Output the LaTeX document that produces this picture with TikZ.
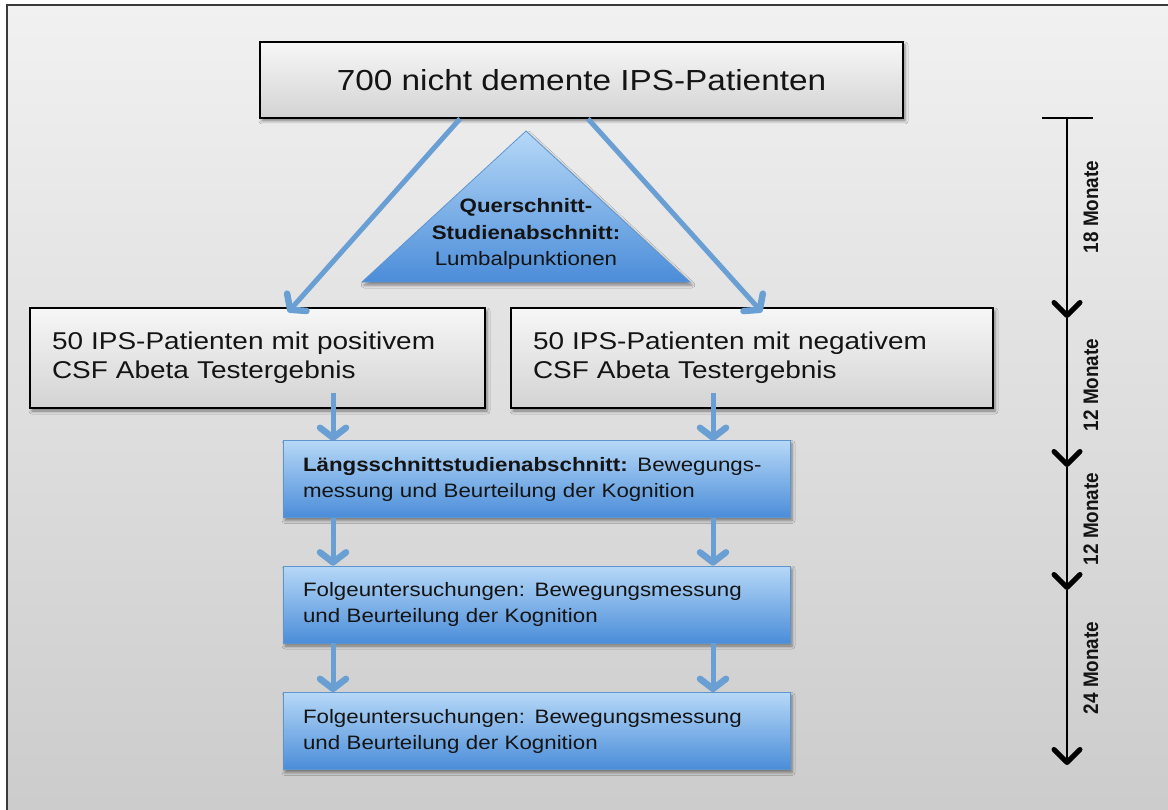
\documentclass[tikz,border=0pt]{standalone}
\usepackage{fontspec}
\setmainfont{Liberation Sans}[FakeStretch=1.15]
\newfontfamily\timefont{Liberation Sans}[FakeStretch=0.9]
\usetikzlibrary{arrows.meta,shadows.blur,calc}

\definecolor{frameline}{HTML}{3A3A3A}
\definecolor{bgtop}{HTML}{F1F1F1}
\definecolor{bgbot}{HTML}{CBCBCB}
\definecolor{boxtop}{HTML}{F7F7F7}
\definecolor{boxbot}{HTML}{D3D3D3}
\definecolor{bluetop}{HTML}{B6D8F7}
\definecolor{bluebot}{HTML}{4B8DD9}
\definecolor{blueedge}{HTML}{5F95CF}
\definecolor{arrowblue}{HTML}{6A9FD4}
\definecolor{inktext}{HTML}{141414}

\begin{document}
\begin{tikzpicture}[x=1pt,y=-1pt,
  softshadow/.style={blur shadow={shadow xshift=2pt,shadow yshift=-3pt,shadow blur radius=3pt,shadow opacity=45}},
  graybox/.style={draw=black, line width=1.6pt, top color=boxtop, bottom color=boxbot,
    softshadow, inner sep=0pt, text=inktext},
  bluebox/.style={draw=blueedge, line width=0.8pt, top color=bluetop, bottom color=bluebot,
    softshadow, inner sep=0pt, minimum width=507pt, minimum height=77pt,
    text width=467pt, align=left, text=inktext,
    font=\fontsize{19.4}{26}\selectfont},
  flowarrow/.style={draw=arrowblue, line width=5pt,
    -{Straight Barb[length=10pt,width=26pt,line width=6.5pt,round]}},
  timeline/.style={draw=black, line width=1.6pt,
    -{Straight Barb[length=13pt,width=26pt,line width=5pt,round]}},
  monthlabel/.style={rotate=90, font=\timefont\bfseries\fontsize{21}{21}\selectfont, text=inktext}
]
\useasboundingbox (0,0) rectangle (1168,810);

% panel background and its frame
\fill[top color=bgtop, bottom color=bgbot] (7,5) rectangle (1190,830);
\draw[frameline, line width=2pt] (7,830) -- (7,5) -- (1190,5);

% cross-sectional phase (triangle)
\path[draw=blueedge, line width=0.8pt, top color=bluetop, bottom color=bluebot, softshadow]
  (526,131) -- (690,282) -- (362,282) -- cycle;
\node[align=center, text=inktext, font=\fontsize{19.4}{26.5}\selectfont] (quer) at (526,234)
  {\textbf{Querschnitt-}\\\textbf{Studienabschnitt:}\\Lumbalpunktionen};

% patient groups
\node[graybox, minimum width=643pt, minimum height=76pt,
  font=\fontsize{29}{33}\selectfont] (top) at (581.5,80) {700 nicht demente IPS-Patienten};
\node[graybox, minimum width=455pt, minimum height=100pt, text width=411pt, align=left,
  font=\fontsize{24.3}{29}\selectfont] (lbox) at (257.5,358)
  {50 IPS-Patienten mit positivem\\CSF Abeta Testergebnis};
\node[graybox, minimum width=482pt, minimum height=100pt, text width=438pt, align=left,
  font=\fontsize{24.3}{29}\selectfont] (rbox) at (752,358)
  {50 IPS-Patienten mit negativem\\CSF Abeta Testergebnis};

% split arrows
\coordinate (sl) at (460,0);
\coordinate (el) at (288,0);
\coordinate (sr) at (588,0);
\coordinate (er) at (762,0);
\draw[flowarrow] (top.south -| sl) -- ([yshift=-5pt]lbox.north -| el);
\draw[flowarrow] (top.south -| sr) -- ([yshift=-5pt]rbox.north -| er);

% longitudinal phase
\coordinate (cl) at (333,0);
\coordinate (cr) at (713,0);
\draw[flowarrow] ([yshift=16pt]lbox.south -| cl) -- (441,441 -| cl);
\draw[flowarrow] ([yshift=16pt]rbox.south -| cr) -- (441,441 -| cr);

\node[bluebox] (b1) at (536.5,479)
  {\textbf{Längsschnittstudienabschnitt:} Bewegungs-\\messung und Beurteilung der Kognition};
\node[bluebox] (b2) at (536.5,604.5)
  {Folgeuntersuchungen: Bewegungsmessung\\und Beurteilung der Kognition};
\node[bluebox] (b3) at (536.5,731)
  {Folgeuntersuchungen: Bewegungsmessung\\und Beurteilung der Kognition};

\draw[flowarrow] (b1.south -| cl) -- (b2.north -| cl);
\draw[flowarrow] (b1.south -| cr) -- (b2.north -| cr);
\draw[flowarrow] (b2.south -| cl) -- (b3.north -| cl);
\draw[flowarrow] (b2.south -| cr) -- (b3.north -| cr);

% time axis
\coordinate (t0) at (1067,118);
\coordinate (t1) at (1067,318);
\coordinate (t2) at (1067,467);
\coordinate (t3) at (1067,590);
\coordinate (t4) at (1067,765);
\draw[black, line width=1.6pt] ([xshift=-25pt]t0) -- ([xshift=26pt]t0);
\draw[timeline] (t0) -- (t1);
\draw[timeline] (t1) -- (t2);
\draw[timeline] (t2) -- (t3);
\draw[timeline] (t3) -- (t4);

\node[monthlabel] (m1) at (1091,207) {18 Monate};
\node[monthlabel] (m2) at (1091,385) {12 Monate};
\node[monthlabel] (m3) at (1091,519) {12 Monate};
\node[monthlabel] (m4) at (1091,668) {24 Monate};
\end{tikzpicture}
\end{document}
